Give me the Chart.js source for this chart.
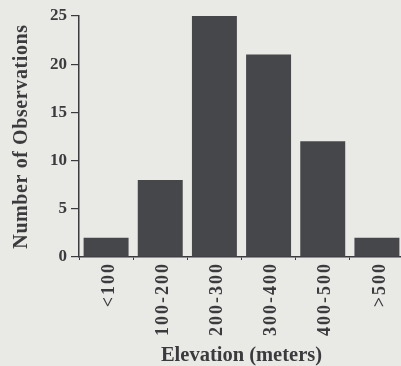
<!DOCTYPE html>
<html>
<head>
<meta charset="utf-8">
<script src="https://cdn.jsdelivr.net/npm/chart.js@4/dist/chart.umd.min.js"></script>
<style>
  html, body { margin: 0; padding: 0; overflow: hidden; background: #e9e9e6; width: 401px; height: 366px; }
  canvas { display: block; }
</style>
</head>
<body>
<canvas id="c" width="404" height="366"></canvas>
<script>
const categories = ["<100", "100-200", "200-300", "300-400", "400-500", ">500"];
const observations = [2, 8, 25, 21, 12, 2];
const yTicks = [0, 5, 10, 15, 20, 25];
const xTitle = "Elevation (meters)";
const yTitle = "Number of Observations";

const ink = "#3b3b3e";
const serif = "'Liberation Serif', 'Times New Roman', serif";

// Wider letter spacing on the rotated category labels, as in the printed figure
const spacingPlugin = {
  id: "labelSpacing",
  beforeDraw(chart) {
    const sx = chart.scales.x;
    if (sx && !sx._spaced) {
      const orig = sx.drawLabels;
      sx.drawLabels = function (ca) {
        const ctx = this.ctx;
        ctx.save();
        ctx.letterSpacing = "2px";
        orig.call(this, ca);
        ctx.restore();
      };
      sx._spaced = true;
    }
    const sy = chart.scales.y;
    if (sy && !sy._spaced) {
      const origT = sy.drawTitle;
      sy.drawTitle = function () {
        const ctx = this.ctx;
        ctx.save();
        ctx.letterSpacing = "0.6px";
        origT.call(this);
        ctx.restore();
      };
      sy._spaced = true;
    }
  }
};

new Chart(document.getElementById("c"), {
  type: "bar",
  data: {
    labels: categories,
    datasets: [{
      data: observations,
      backgroundColor: "#46474b",
      borderWidth: 0,
      barPercentage: 0.83,
      categoryPercentage: 1.0
    }]
  },
  plugins: [spacingPlugin],
  options: {
    responsive: false,
    animation: false,
    devicePixelRatio: 1,
    layout: { padding: { top: 16, right: 0, left: 0, bottom: 0 } },
    plugins: { legend: { display: false }, tooltip: { enabled: false } },
    scales: {
      x: {
        offset: true,
        grid: { offset: true, drawOnChartArea: false, drawTicks: true, tickLength: 3, color: ink, lineWidth: 1 },
        border: { display: true, color: ink, width: 1.5 },
        ticks: {
          autoSkip: false, minRotation: 90, maxRotation: 90, padding: 2, labelOffset: 3,
          color: ink, font: { family: serif, size: 18, weight: "bold" }
        },
        title: {
          display: true, text: xTitle, color: ink,
          font: { family: serif, size: 20.5, weight: "bold", lineHeight: 1 },
          padding: { top: 0, bottom: 0 }
        },
        afterFit: (s) => { s.height = 109; }
      },
      y: {
        min: 0, max: 25,
        afterBuildTicks: (s) => { s.ticks = yTicks.map(v => ({ value: v })); },
        grid: { drawOnChartArea: false, drawTicks: true, tickLength: 8, color: ink, lineWidth: 1.2 },
        border: { display: true, color: ink, width: 1.5 },
        ticks: { padding: 4, color: ink, font: { family: serif, size: 17, weight: "bold" } },
        title: {
          display: true, text: yTitle, color: ink,
          font: { family: serif, size: 20, weight: "bold", lineHeight: 1 },
          padding: { top: 12, bottom: 0 }
        },
        afterFit: (s) => { s.width = 79; }
      }
    }
  }
});
</script>
</body>
</html>
